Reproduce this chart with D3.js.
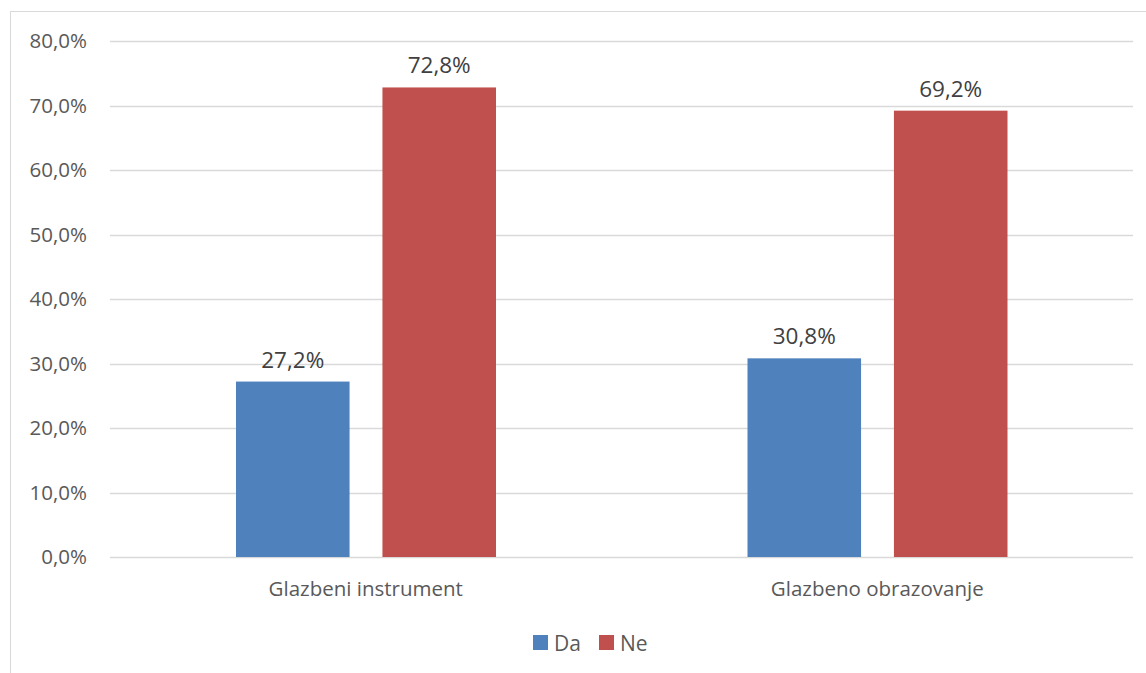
<!DOCTYPE html>
<html>
<head>
<meta charset="utf-8">
<script src="https://cdn.jsdelivr.net/npm/d3@7"></script>
<style>
  body { margin: 0; background: #fff; }
  svg { display: block; font-family: "Open Sans", "Noto Sans", sans-serif; }
</style>
</head>
<body>
<div id="chart"></div>
<script>
const categories = ["Glazbeni instrument", "Glazbeno obrazovanje"];
const seriesNames = ["Da", "Ne"];
const daValues = [27.2, 30.8];
const neValues = [72.8, 69.2];
const yTicks = [0, 10, 20, 30, 40, 50, 60, 70, 80];
const colors = {"Da": "#4f81bd", "Ne": "#c0504d"};

const data = categories.map((c, i) => ({
  category: c,
  values: [{key: "Da", value: daValues[i]}, {key: "Ne", value: neValues[i]}]
}));

const W = 1146, H = 673;
const margin = {top: 41, right: 13, bottom: 116, left: 110};
const width = W - margin.left - margin.right,
      height = H - margin.top - margin.bottom;

const svg = d3.select("#chart").append("svg")
  .attr("width", W).attr("height", H);

// chart border
svg.append("rect")
  .attr("x", 10.5).attr("y", 11.5)
  .attr("width", W + 20).attr("height", H + 20)
  .attr("fill", "none").attr("stroke", "#d9d9d9").attr("stroke-width", 1);

const g = svg.append("g").attr("transform", `translate(${margin.left},${margin.top})`);

const x0 = d3.scaleBand().domain(categories).range([0, width]);
const x1 = d3.scaleBand().domain(seriesNames).range([126, 386]).paddingInner(0.2245);
const y = d3.scaleLinear().domain([0, 80]).range([height, 0]);

const fmt = v => d3.format(".1f")(v).replace(".", ",") + "%";

// gridlines
g.selectAll(".grid").data(yTicks).join("line")
  .attr("x1", 0).attr("x2", width)
  .attr("y1", d => Math.round(y(d)) + 0.5).attr("y2", d => Math.round(y(d)) + 0.5)
  .attr("stroke", "#d9d9d9").attr("stroke-width", 1.3);

// y axis labels
const yAxis = g.append("g").call(d3.axisLeft(y).tickValues(yTicks).tickFormat(fmt).tickSize(0).tickPadding(23));
yAxis.select(".domain").remove();
yAxis.selectAll("text").attr("fill", "#595959").style("font-size", "20.5px")
  .style("font-family", "'Open Sans', sans-serif");

// bars
const groups = g.selectAll(".grp").data(data).join("g")
  .attr("transform", d => `translate(${x0(d.category)},0)`);

groups.selectAll("rect").data(d => d.values).join("rect")
  .attr("x", d => x1(d.key))
  .attr("y", d => y(d.value))
  .attr("width", x1.bandwidth())
  .attr("height", d => height - y(d.value))
  .attr("fill", d => colors[d.key]);

groups.selectAll(".lbl").data(d => d.values).join("text")
  .attr("x", d => x1(d.key) + x1.bandwidth() / 2)
  .attr("y", d => y(d.value) - 14)
  .attr("text-anchor", "middle")
  .attr("fill", "#404040").style("font-size", "22.5px")
  .text(d => fmt(d.value));

// x axis labels
g.selectAll(".cat").data(categories).join("text")
  .attr("x", d => x0(d) + x0.bandwidth() / 2)
  .attr("y", height + 39)
  .attr("text-anchor", "middle")
  .attr("fill", "#595959").style("font-size", "20.5px")
  .text(d => d);

// legend
const legend = svg.append("g").attr("transform", "translate(533,635)");
const items = legend.selectAll("g").data(seriesNames).join("g")
  .attr("transform", (d, i) => `translate(${i * 66},0)`);
items.append("rect").attr("width", 15).attr("height", 15).attr("fill", d => colors[d]);
items.append("text").attr("x", 21).attr("y", 16)
  .attr("fill", "#595959").style("font-size", "21px").text(d => d);
</script>
</body>
</html>
